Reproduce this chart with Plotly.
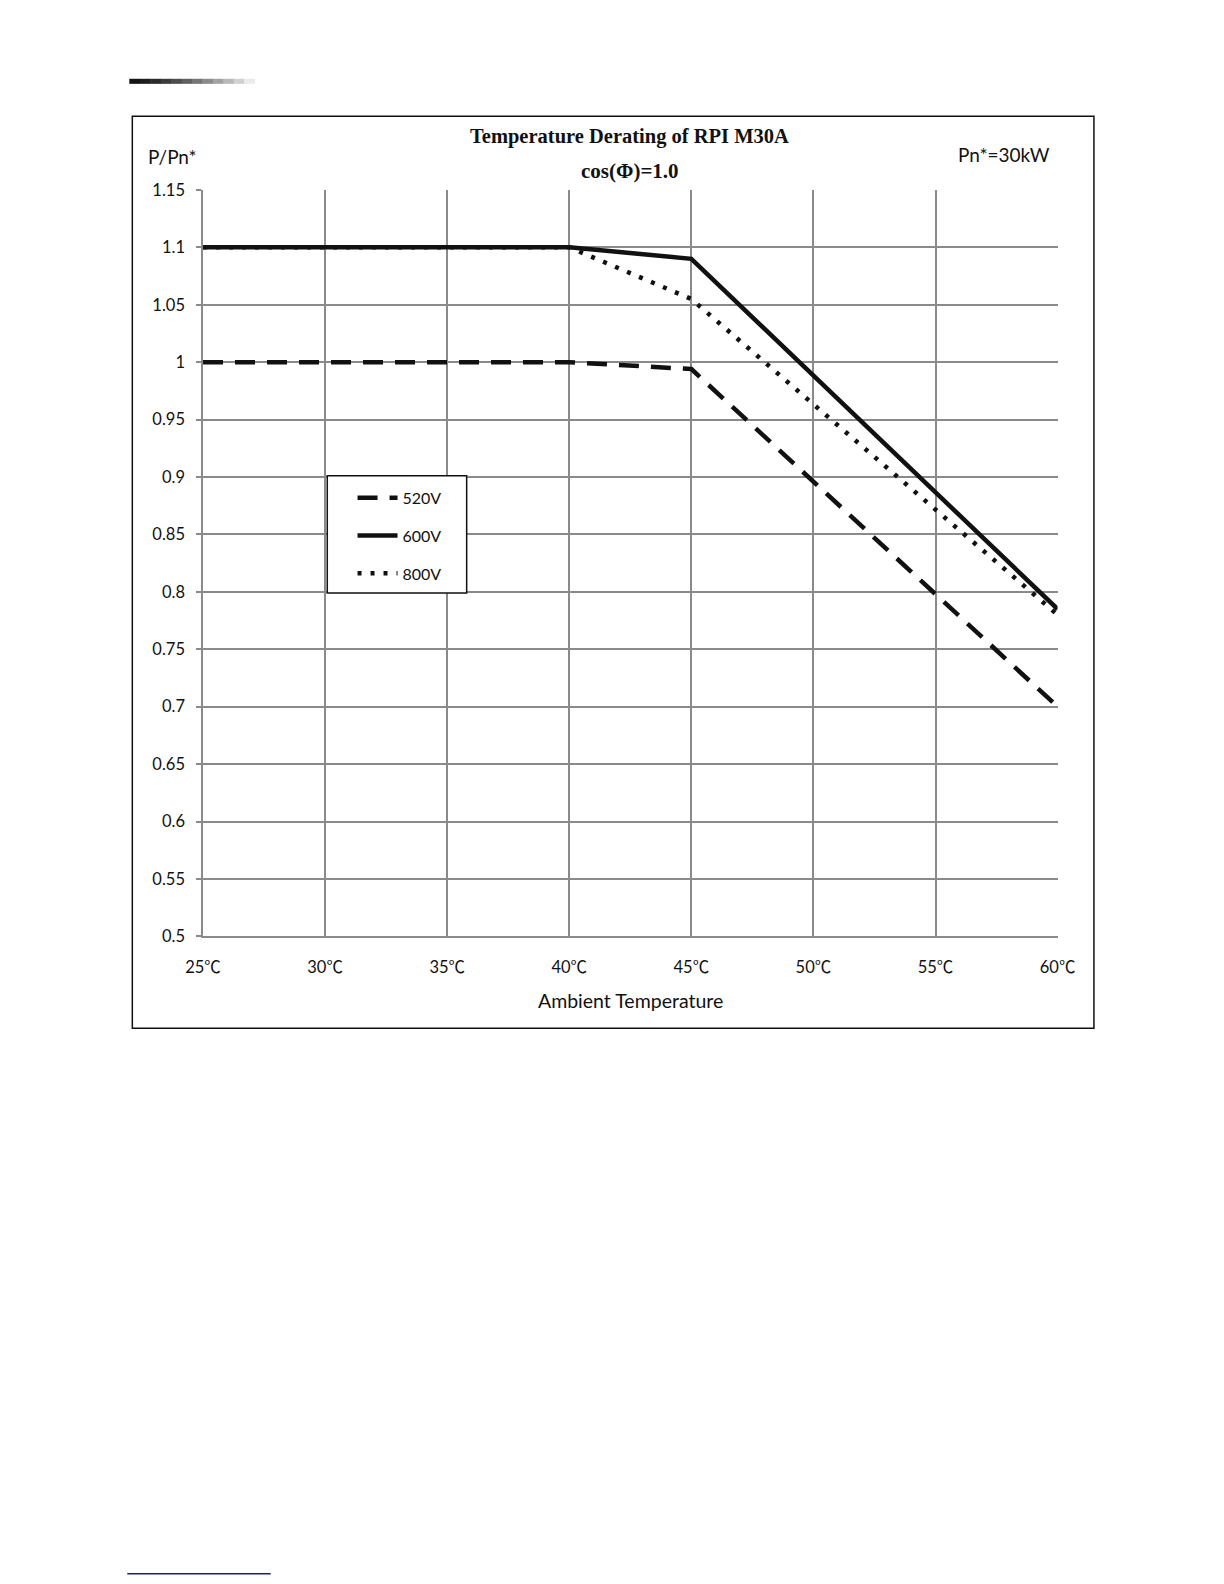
import plotly.graph_objects as go

# page is 1224x1584; the html body adds an 8px margin; the photo comes out scaled ~0.99
PAGE_W, PAGE_H = 1224, 1584
BODY = 8
S = 0.99
W, H = PAGE_W - 2 * BODY, PAGE_H - 2 * BODY

temps = [25, 40, 45, 60]
v520 = [1.0, 1.0, 0.994, 0.70]
v600 = [1.10, 1.10, 1.09, 0.785]
v800 = [1.10, 1.10, 1.055, 0.78]

x_ticks = [25, 30, 35, 40, 45, 50, 55, 60]
x_nums = ["25", "30", "35", "40", "45", "50", "55", "60"]
y_ticks = [0.5, 0.55, 0.6, 0.65, 0.7, 0.75, 0.8, 0.85, 0.9, 0.95, 1.0, 1.05, 1.1, 1.15]
y_labels = ["0.5", "0.55", "0.6", "0.65", "0.7", "0.75", "0.8", "0.85", "0.9", "0.95", "1", "1.05", "1.1", "1.15"]

x_labels = [n + "<span style='font-family:Noto Sans CJK SC'>℃</span>" for n in x_nums]


def px(x):
    return (x / S - BODY) / W


def py(y):
    return 1 - (y / S - BODY) / H


SANS = "Lato, Open Sans, sans-serif"
SERIF = "Liberation Serif, Times New Roman, serif"

fig = go.Figure()
fig.add_trace(go.Scatter(x=temps, y=v800, mode="lines", name="800V", legendrank=3, legendgroup="c",
                         line=dict(color="#111", width=4.5, dash="4px,9px")))
fig.add_trace(go.Scatter(x=temps, y=v520, mode="lines", name="520V", legendrank=1, legendgroup="a",
                         line=dict(color="#111", width=4.5, dash="20px,12px")))
fig.add_trace(go.Scatter(x=temps, y=v600, mode="lines", name="600V", legendrank=2, legendgroup="b",
                         line=dict(color="#111", width=4.5)))

axis_font = dict(family=SANS, size=16.5, color="#111")

fig.update_layout(
    width=W, height=H, autosize=False,
    margin=dict(l=0, r=0, t=0, b=0, pad=0, autoexpand=False),
    paper_bgcolor="white", plot_bgcolor="white",
    showlegend=True,
    legend=dict(x=px(349), y=py(476), xanchor="left", yanchor="top",
                borderwidth=0, bgcolor="rgba(0,0,0,0)",
                font=dict(family=SANS, size=16, color="#111"),
                tracegroupgap=14, itemwidth=40),
    xaxis=dict(domain=[px(201), px(1047)], range=[25, 60], automargin=False,
               tickvals=x_ticks, ticktext=x_labels, tickfont=axis_font,
               showgrid=True, gridcolor="#8a8a8a", gridwidth=1.5,
               showline=True, linecolor="#8a8a8a", linewidth=1.5,
               ticks="", ticklabelstandoff=15, zeroline=False,
               anchor="y"),
    yaxis=dict(domain=[py(927), py(188)], range=[0.5, 1.15], automargin=False,
               tickvals=y_ticks, ticktext=y_labels, tickfont=axis_font,
               showgrid=True, gridcolor="#8a8a8a", gridwidth=1.5,
               showline=True, linecolor="#8a8a8a", linewidth=1.5,
               ticks="outside", ticklen=5, tickcolor="#8a8a8a", tickwidth=1.5,
               ticklabelstandoff=8, zeroline=False, anchor="x"),
)

# outer frame
fig.add_shape(type="rect", xref="paper", yref="paper",
              x0=px(131), x1=px(1083), y0=py(1018), y1=py(115),
              line=dict(color="#111", width=1.5), fillcolor="rgba(0,0,0,0)", layer="below")

# legend box
fig.add_shape(type="rect", xref="paper", yref="paper",
              x0=px(324), x1=px(462), y0=py(587), y1=py(471),
              line=dict(color="#111", width=1.5), fillcolor="white", layer="above")

# header gradient bar
n = 12
x_start, x_end = 128, 252
seg = (x_end - x_start) / n
for i in range(n):
    g = int(20 + (235 - 20) * (i / (n - 1)) ** 1.3)
    fig.add_shape(type="rect", xref="paper", yref="paper",
                  x0=px(x_start + i * seg), x1=px(x_start + (i + 1) * seg + 0.5),
                  y0=py(83), y1=py(78),
                  line=dict(width=0), fillcolor=f"rgb({g},{g},{g})")

# footer blue line
fig.add_shape(type="line", xref="paper", yref="paper",
              x0=px(126), x1=px(268), y0=py(1558), y1=py(1558),
              line=dict(color="#1c1c8a", width=1.5))

ann_font = dict(family=SANS, size=19, color="#111")
fig.add_annotation(text="<b>Temperature Derating of RPI M30A</b>", xref="paper", yref="paper",
                   x=px(623), y=py(135), xanchor="center", yanchor="middle", showarrow=False,
                   font=dict(family=SERIF, size=20.5, color="#111"))
fig.add_annotation(text="<b>cos(Φ)=1.0</b>", xref="paper", yref="paper",
                   x=px(624), y=py(169), xanchor="center", yanchor="middle", showarrow=False,
                   font=dict(family=SERIF, size=21, color="#111"))
fig.add_annotation(text="P/Pn*", xref="paper", yref="paper",
                   x=px(145), y=py(155), xanchor="left", yanchor="middle", showarrow=False, font=ann_font)
fig.add_annotation(text="Pn*=30kW", xref="paper", yref="paper",
                   x=px(1041), y=py(153), xanchor="right", yanchor="middle", showarrow=False, font=ann_font)
fig.add_annotation(text="Ambient Temperature", xref="paper", yref="paper",
                   x=px(624), y=py(990), xanchor="center", yanchor="middle", showarrow=False,
                   font=dict(family=SANS, size=19.5, color="#111"))

fig.write_html("out.html")
